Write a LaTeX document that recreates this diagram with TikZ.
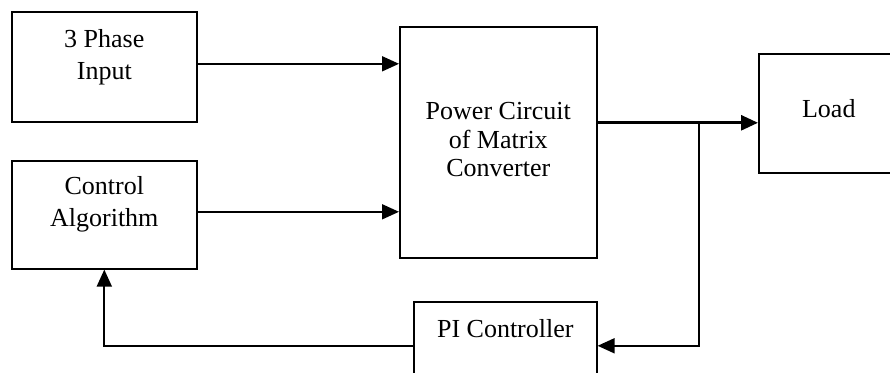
\documentclass[tikz,border=0pt]{standalone}
\usepackage{fontspec}
\setmainfont{Liberation Serif}
\usetikzlibrary{arrows.meta}
\tikzset{block/.style={draw, line width=0.8pt, anchor=north west, inner sep=0pt},
 txt/.style={anchor=center, align=center, font=\fontsize{13}{16}\selectfont},
 arr/.style={line width=0.9pt, -{Triangle[length=8.5pt,width=7.5pt]}},
 }

\begin{document}
\begin{tikzpicture}[x=0.5pt,y=-0.5pt]
    \useasboundingbox (0,0) rectangle (890,373);
    \node[block, minimum width=92.5pt, minimum height=55pt,
        label={[txt,name=inplbl,yshift=-23pt]north:3 Phase\\Input}] (inp) at (11,11) {};
    \node[block, minimum width=92.5pt, minimum height=54pt,
        label={[txt,name=ctrllbl,yshift=-22pt]north:Control\\Algorithm}] (ctrl) at (11,160) {};
    \node[block, minimum width=98.5pt, minimum height=115.5pt,
        label={[txt,name=pcmlbl,yshift=-56.8pt,font=\fontsize{13}{14.3}\selectfont]north:Power Circuit\\of Matrix\\Converter}] (pcm) at (399,26) {};
    \node[block, minimum width=70pt, minimum height=59.5pt,
        label={[txt,name=loadlbl,yshift=-28pt]north:Load}] (load) at (758,53) {};
    \node[block, minimum width=91.5pt, minimum height=44pt,
        label={[txt,name=pilbl,yshift=-14pt]north:PI Controller}] (pi) at (413,301) {};
    \coordinate (inpout) at ([yshift=1.5pt]inp.east);
    \coordinate (ctrlout) at ([yshift=1.5pt]ctrl.east);
    \coordinate (loadin) at ([yshift=-4.75pt]load.west);
    \coordinate (tap) at (699,122);
    \draw[arr] (inpout) -- (inpout -| pcm.west);
    \draw[arr] (ctrlout) -- (ctrlout -| pcm.west);
    \draw[arr, line width=1.4pt] (loadin -| pcm.east) -- (loadin);
    \draw[arr] (tap) |- (pi.east);
    \draw[arr] (pi.west) -| (ctrl.south);
\end{tikzpicture}
\end{document}
